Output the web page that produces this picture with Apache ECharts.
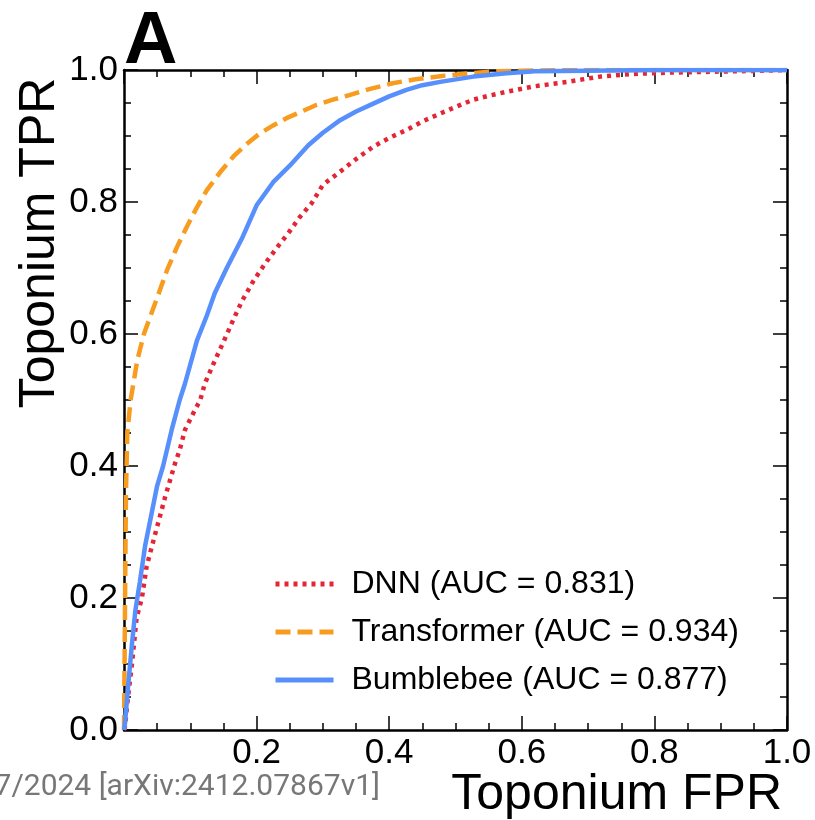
<!DOCTYPE html>
<html>
<head>
<meta charset="utf-8">
<script src="https://cdn.jsdelivr.net/npm/echarts@6/dist/echarts.min.js"></script>
<style>
  html, body { margin: 0; padding: 0; background: #fff; }
  #chart { width: 815px; height: 820px; }
</style>
</head>
<body>
<div id="chart"></div>
<script>
// ROC curves (FPR, TPR)
var dnnFpr = [0, 0.0015, 0.005, 0.009, 0.012, 0.019, 0.027, 0.034, 0.042, 0.054, 0.062, 0.077, 0.084, 0.092, 0.107, 0.115, 0.122, 0.135, 0.15, 0.165, 0.178, 0.195, 0.213, 0.23, 0.248, 0.265, 0.283, 0.3, 0.326, 0.35, 0.376, 0.4, 0.426, 0.45, 0.477, 0.5, 0.527, 0.55, 0.577, 0.617, 0.668, 0.718, 0.768, 0.82, 0.87, 0.92, 0.97, 1.0]
var dnnTpr = [0, 0.005, 0.04, 0.075, 0.10, 0.17, 0.20, 0.247, 0.278, 0.323, 0.353, 0.404, 0.424, 0.455, 0.485, 0.5, 0.525, 0.555, 0.588, 0.622, 0.65, 0.68, 0.707, 0.73, 0.753, 0.777, 0.798, 0.826, 0.846, 0.865, 0.884, 0.897, 0.909, 0.922, 0.934, 0.944, 0.955, 0.961, 0.967, 0.975, 0.982, 0.990, 0.994, 0.996, 0.997, 0.998, 0.999, 1.0]

var tfFpr = [0, 0.001, 0.002, 0.003, 0.005, 0.01, 0.02, 0.03, 0.05, 0.065, 0.08, 0.095, 0.11, 0.125, 0.145, 0.165, 0.185, 0.205, 0.225, 0.245, 0.27, 0.29, 0.315, 0.34, 0.37, 0.405, 0.44, 0.48, 0.52, 0.56, 0.6, 0.7, 0.8, 0.9, 1.0]
var tfTpr = [0, 0.12, 0.25, 0.36, 0.45, 0.5, 0.56, 0.6, 0.655, 0.697, 0.732, 0.763, 0.792, 0.818, 0.845, 0.869, 0.888, 0.904, 0.916, 0.927, 0.938, 0.947, 0.955, 0.962, 0.971, 0.980, 0.986, 0.991, 0.995, 0.998, 0.999, 1.0, 1.0, 1.0, 1.0]

var bbFpr = [0, 0.0015, 0.0065, 0.012, 0.017, 0.024, 0.032, 0.042, 0.05, 0.059, 0.072, 0.084, 0.092, 0.11, 0.125, 0.137, 0.155, 0.178, 0.2, 0.225, 0.25, 0.278, 0.3, 0.326, 0.35, 0.376, 0.4, 0.426, 0.45, 0.477, 0.527, 0.577, 0.62, 0.7, 0.8, 1.0]
var bbTpr = [0, 0.01, 0.07, 0.13, 0.18, 0.225, 0.28, 0.33, 0.37, 0.40, 0.455, 0.50, 0.525, 0.59, 0.628, 0.662, 0.70, 0.745, 0.795, 0.83, 0.855, 0.886, 0.905, 0.924, 0.937, 0.949, 0.960, 0.970, 0.977, 0.982, 0.990, 0.995, 0.998, 0.999, 1.0, 1.0]

var names = ['DNN (AUC = 0.831)', 'Transformer (AUC = 0.934)', 'Bumblebee (AUC = 0.877)']

function pairs(xs, ys) {
  return xs.map(function (x, i) { return [x, ys[i]] })
}

var myChart = echarts.init(document.getElementById('chart'))

var font = 'Liberation Sans, Arial, Helvetica, sans-serif'

// shared look of the four frame axes
function frameAxis(extra) {
  var base = {
    type: 'value',
    min: 0,
    max: 1,
    interval: 0.2,
    axisLine: { show: true, onZero: false, lineStyle: { color: '#000', width: 2.5 } },
    axisTick: { show: true, inside: true, length: 14, lineStyle: { color: '#000', width: 1.5 } },
    minorTick: { show: true, splitNumber: 4, length: 7, lineStyle: { color: '#000', width: 1.5 } },
    splitLine: { show: false },
    axisLabel: { show: false },
  }
  return Object.assign(base, extra)
}

var option = {
  animation: false,
  backgroundColor: '#fff',
  grid: { left: 124, top: 70, width: 663, height: 660, containLabel: false },
  xAxis: [
    frameAxis({
      position: 'bottom',
      axisLabel: {
        show: true,
        color: '#000',
        fontFamily: font,
        fontSize: 35,
        margin: 6,
        formatter: function (v) { return v === 0 ? '' : v.toFixed(1) },
      },
    }),
    frameAxis({ position: 'top' }),
  ],
  yAxis: [
    frameAxis({
      position: 'left',
      axisLabel: {
        show: true,
        color: '#000',
        fontFamily: font,
        fontSize: 35,
        margin: 6,
        formatter: function (v) { return v.toFixed(1) },
      },
    }),
    frameAxis({ position: 'right' }),
  ],
  legend: {
    orient: 'vertical',
    left: 268,
    top: 563,
    itemWidth: 58,
    itemHeight: 16,
    itemGap: 16,
    data: names,
    itemStyle: { opacity: 0 },
    lineStyle: { width: 5 },
    textStyle: { color: '#000', fontFamily: font, fontSize: 32, lineHeight: 32, padding: [0, 0, 0, 13] },
  },
  graphic: [
    {
      type: 'text',
      left: 124,
      top: 6,
      style: { text: 'A', font: 'bold 74px ' + font, fill: '#000' },
    },
    {
      type: 'text',
      x: 782,
      y: 795,
      style: { text: 'Toponium FPR', font: '50px ' + font, fill: '#000', align: 'right', verticalAlign: 'middle' },
    },
    {
      type: 'text',
      x: 40,
      y: 243,
      rotation: Math.PI / 2,
      style: { text: 'Toponium TPR', font: '50px ' + font, fill: '#000', align: 'center', verticalAlign: 'middle' },
    },
    {
      type: 'text',
      x: 380,
      y: 787,
      style: { text: '7/2024 [arXiv:2412.07867v1]', font: '30px Roboto, sans-serif', fill: '#777', align: 'right', verticalAlign: 'middle' },
    },
  ],
  series: [
    {
      name: names[0],
      type: 'line',
      data: pairs(dnnFpr, dnnTpr),
      showSymbol: false,
      symbol: 'none',
      color: '#e42536',
      lineStyle: { color: '#e42536', width: 4.5, type: [4, 5] },
      z: 3,
    },
    {
      name: names[1],
      type: 'line',
      data: pairs(tfFpr, tfTpr),
      showSymbol: false,
      symbol: 'none',
      color: '#f89c20',
      lineStyle: { color: '#f89c20', width: 4.5, type: [15, 7] },
      z: 4,
    },
    {
      name: names[2],
      type: 'line',
      data: pairs(bbFpr, bbTpr),
      showSymbol: false,
      symbol: 'none',
      color: '#5790fc',
      lineStyle: { color: '#5790fc', width: 4.5 },
      z: 5,
    },
  ],
}

myChart.setOption(option)
</script>
</body>
</html>
